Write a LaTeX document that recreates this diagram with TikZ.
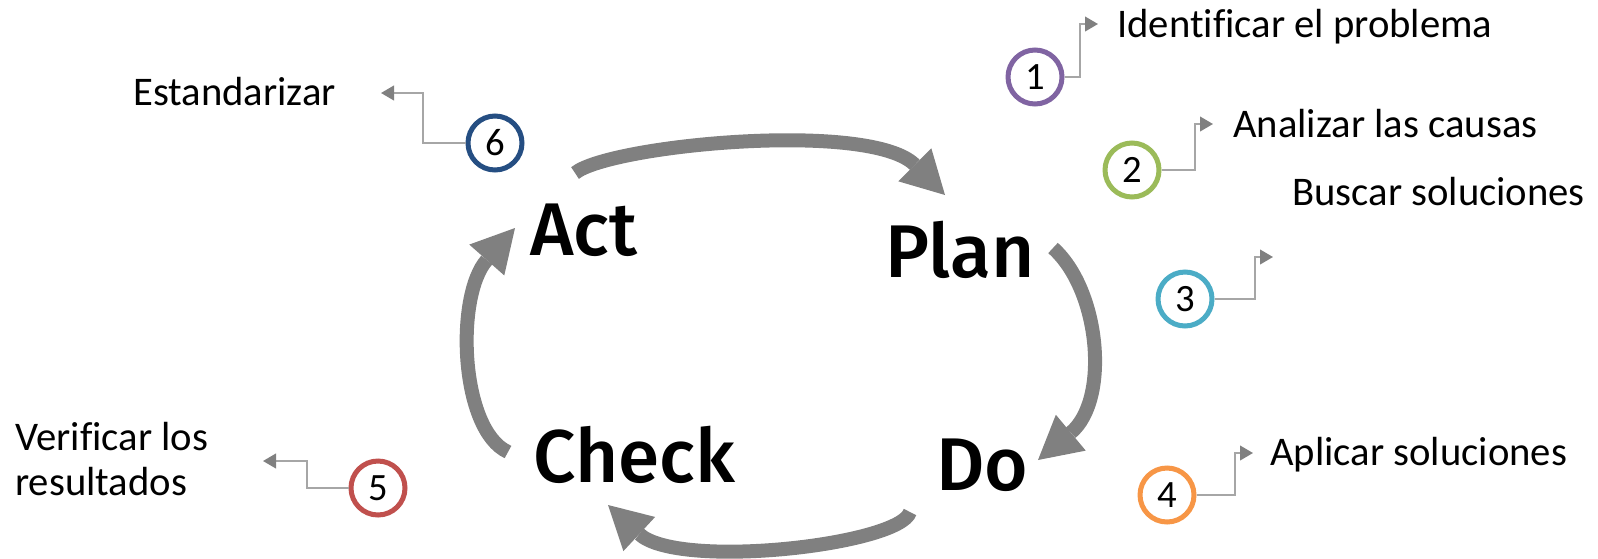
\documentclass[tikz,border=0pt]{standalone}
\usepackage{fontspec}
\setmainfont{Carlito}[Ligatures=CommonOff]
\newfontfamily\pdcafont{Fira Sans Medium}
\usetikzlibrary{arrows.meta}
\definecolor{cpurple}{HTML}{8064A2}
\definecolor{cgreen}{HTML}{9BBB59}
\definecolor{ccyan}{HTML}{4BACC6}
\definecolor{corange}{HTML}{F79646}
\definecolor{cred}{HTML}{C0504D}
\definecolor{cnavy}{HTML}{254E82}
\definecolor{cyclegray}{HTML}{808080}
\definecolor{linegray}{HTML}{A6A6A6}
\definecolor{tipgray}{HTML}{808080}
\begin{document}
\begin{tikzpicture}[x=0.75pt,y=-0.75pt,
  num/.style={circle, draw, line width=3.75pt, minimum size=40.5pt, inner sep=0pt,
    fill=white, font=\fontsize{29}{32}\selectfont},
  lbl/.style={anchor=base west, inner sep=0pt, font=\fontsize{30.5}{34}\selectfont},
  big/.style={anchor=base west, inner sep=0pt, font=\pdcafont\fontsize{56}{60}\selectfont},
  conn/.style={draw=linegray, line width=1.5pt,
    -{Triangle[length=9.75pt,width=11pt,color=tipgray]}},
  cyc/.style={draw=cyclegray, line width=10.5pt,
    -{Triangle[length=32pt,width=35pt,line width=0pt]}}
]
\useasboundingbox (0,0) rectangle (1598,558);

% big labels
\node[big] (act) at (530,255) {Act};
\node[big] (plan) at (885,277) {Plan};
\node[big] (check) at (533,482) {Check};
\node[big] (do) at (936,490) {Do};

% cycle arrow end points
\coordinate (s1) at (575,173); \coordinate (e1) at (945,195);
\coordinate (s2) at (1053,248); \coordinate (e2) at (1038,460);
\coordinate (s3) at (910,512); \coordinate (e3) at (608,505);
\coordinate (s4) at (508,452); \coordinate (e4) at (515,228);

\draw[cyc] (s1) .. controls (610,145) and (870,120) .. (e1);
\draw[cyc] (s2) .. controls (1100,290) and (1110,400) .. (e2);
\draw[cyc] (s3) .. controls (900,545) and (678,570) .. (e3);
\draw[cyc] (s4) .. controls (460,430) and (455,296) .. (e4);

% numbered circles
\node[num, draw=cpurple] (c1) at (1035,77) {1};
\node[num, draw=cgreen]  (c2) at (1132,170) {2};
\node[num, draw=ccyan]   (c3) at (1185,299) {3};
\node[num, draw=corange] (c4) at (1167,495) {4};
\node[num, draw=cred]    (c5) at (378,488) {5};
\node[num, draw=cnavy]   (c6) at (495,143) {6};

% step texts
\node[lbl] (t1) at (1117,37) {Identificar el problema};
\node[lbl] (t2) at (1233,137) {Analizar las causas};
\node[lbl] (t3) at (1292,205) {Buscar soluciones};
\node[lbl] (t4) at (1270,465) {Aplicar soluciones};
\node[lbl, align=left, font=\fontsize{30.5}{33.75}\selectfont] (t5) at (15,495) {Verificar los\\resultados};
\node[lbl] (t6) at (133,105) {Estandarizar};

% connectors
\coordinate (k1) at (1080,24);  \coordinate (a1) at (1098,24);
\coordinate (k2) at (1195,124); \coordinate (a2) at (1213,124);
\coordinate (k3) at (1255,257); \coordinate (a3) at (1273,257);
\coordinate (k4) at (1235,453); \coordinate (a4) at (1253,453);
\coordinate (k5) at (307,461);  \coordinate (a5) at (263,461);
\coordinate (k6) at (423,93);   \coordinate (a6) at (381,93);

\draw[conn] (c1.east) -| (k1) -- (a1);
\draw[conn] (c2.east) -| (k2) -- (a2);
\draw[conn] (c3.east) -| (k3) -- (a3);
\draw[conn] (c4.east) -| (k4) -- (a4);
\draw[conn] (c5.west) -| (k5) -- (a5);
\draw[conn] (c6.west) -| (k6) -- (a6);
\end{tikzpicture}
\end{document}
